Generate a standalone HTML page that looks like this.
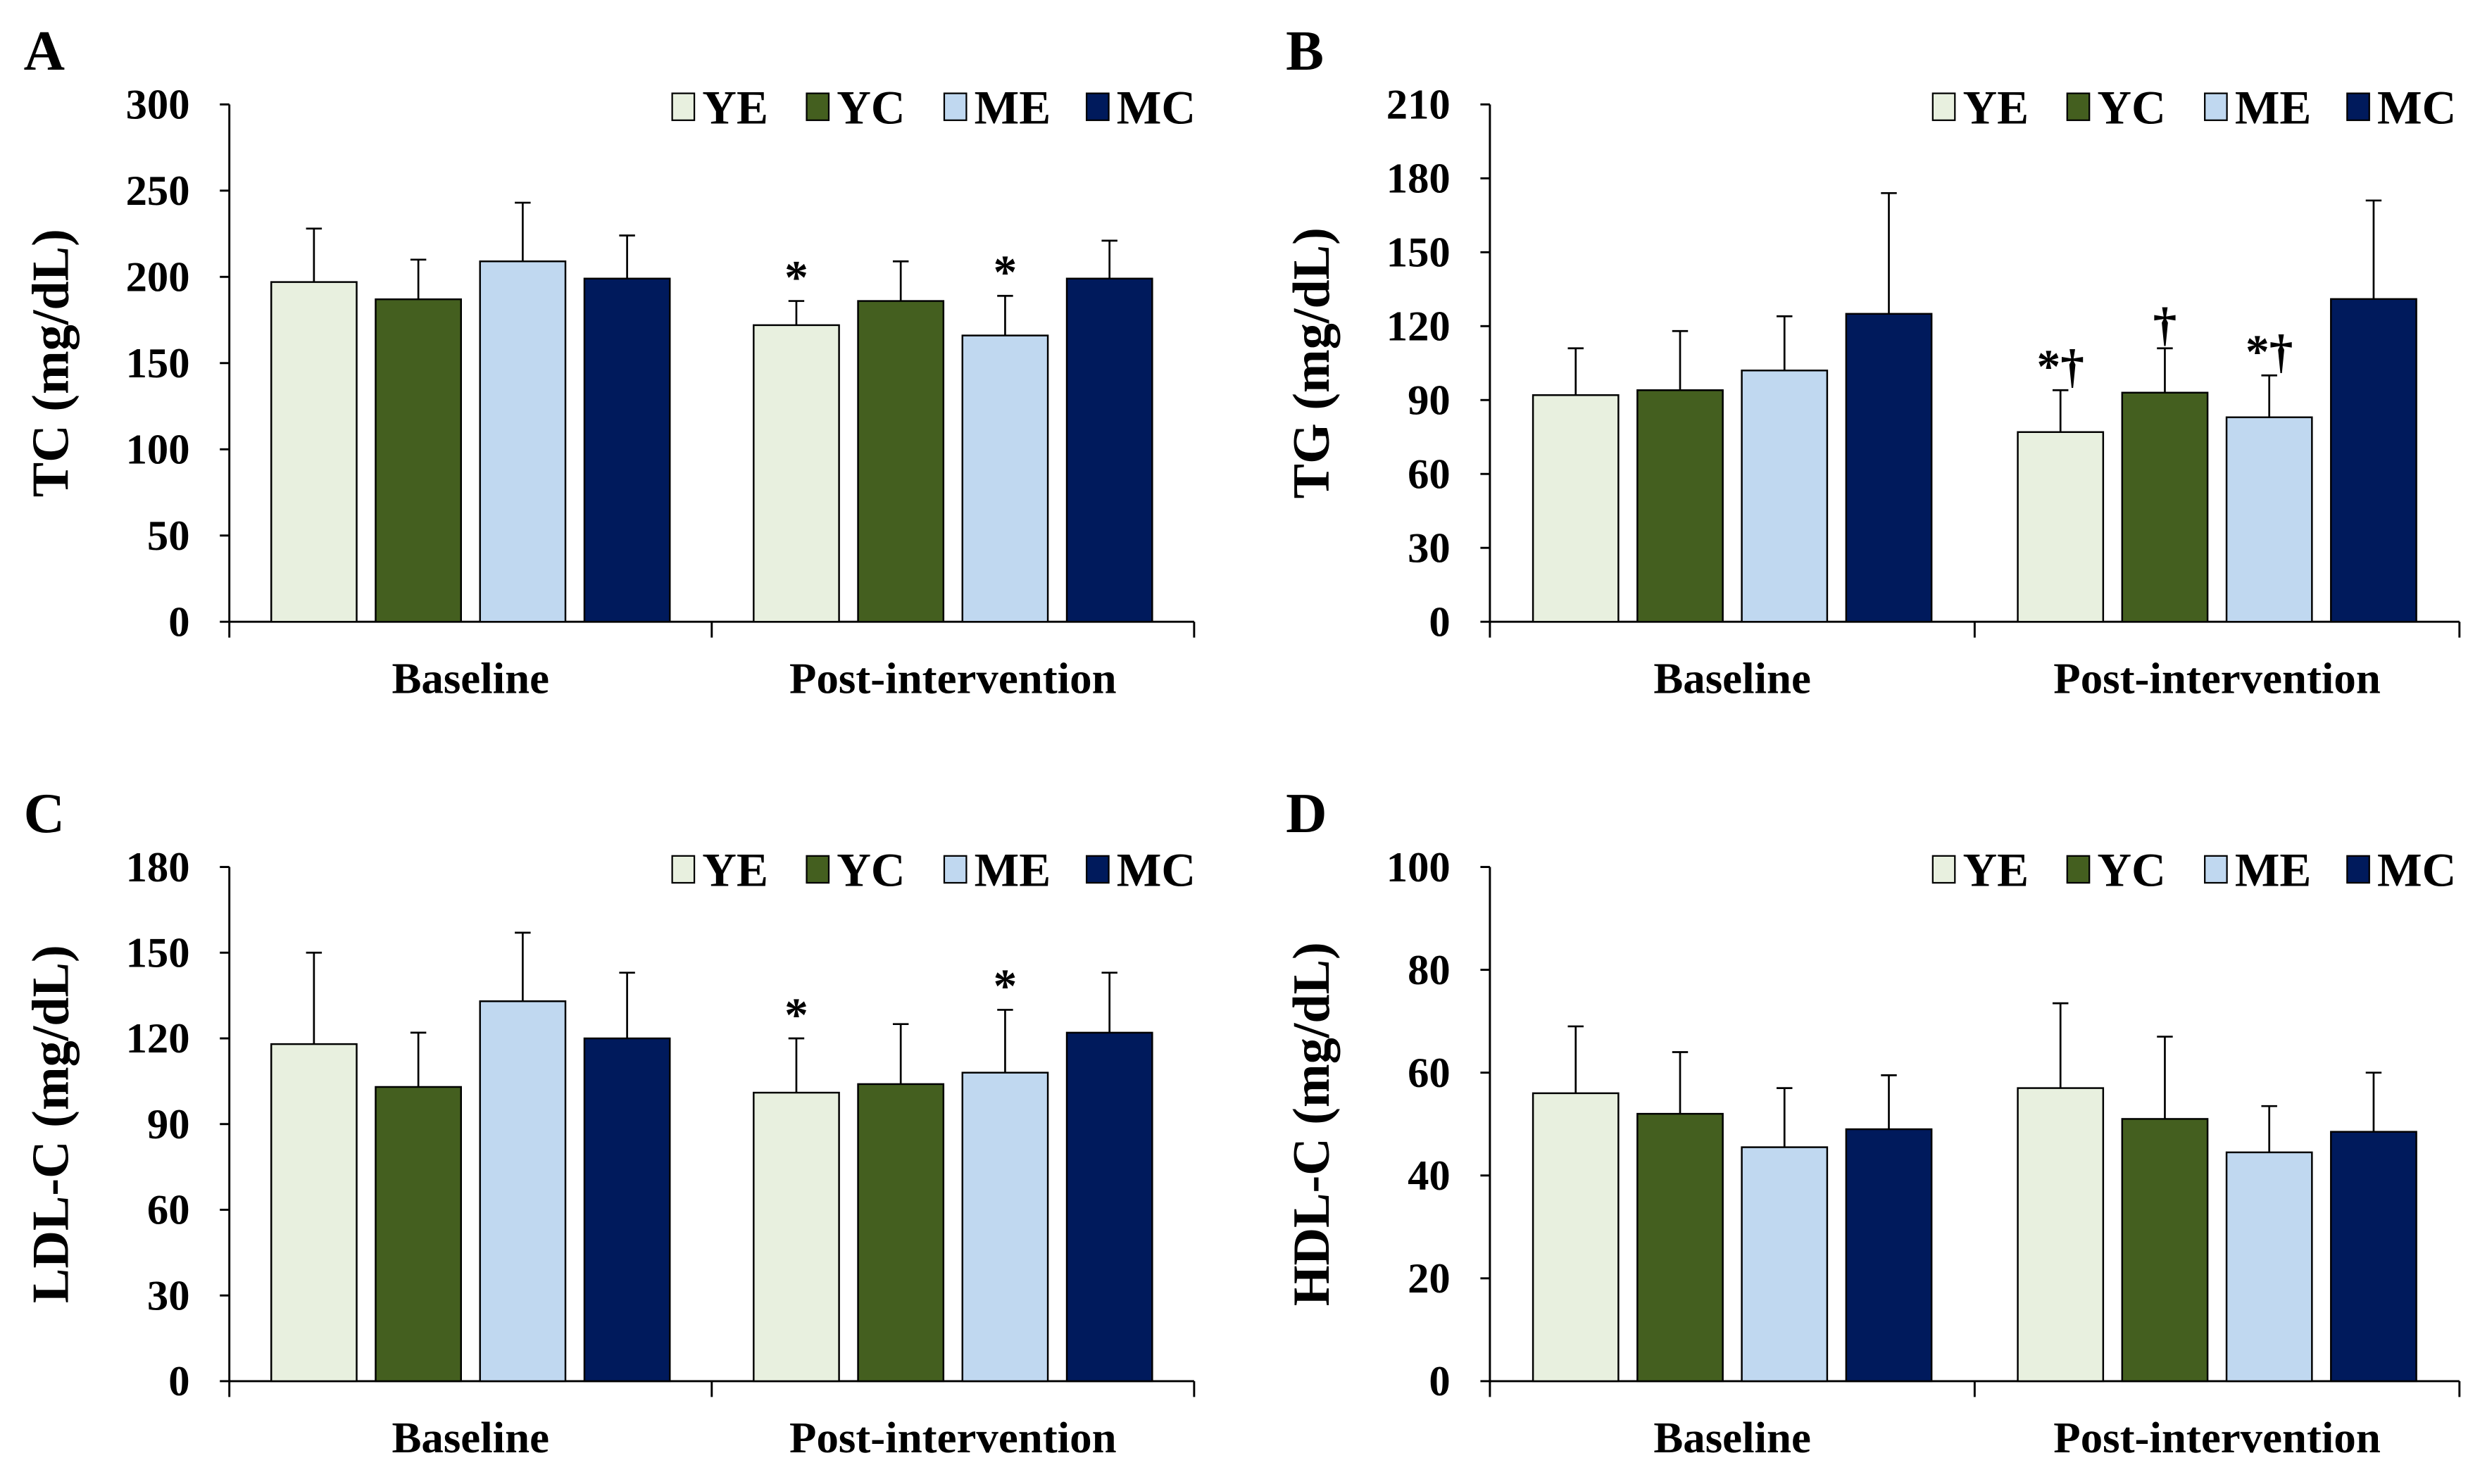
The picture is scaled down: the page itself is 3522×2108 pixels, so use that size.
<!DOCTYPE html>
<html><head><meta charset="utf-8"><style>
html,body{margin:0;padding:0;background:#fff}
svg{display:block}
svg text{font-family:"Liberation Serif","Times New Roman","DejaVu Serif",serif;font-weight:bold;fill:#000}
</style></head><body>
<svg id="fig" width="3522" height="2108" viewBox="0 0 1568 938" preserveAspectRatio="none" xmlns="http://www.w3.org/2000/svg" font-family="Liberation Serif, serif"></svg>
<script>
const groups = ["Baseline", "Post-intervention"];
const series = ["YE", "YC", "ME", "MC"];
const colors = ["#e8f0df", "#445f1f", "#c0d8f0", "#001a5c"];
const tcMean = [[197,187,209,199],[172,186,166,199]];
const tcErr = [[228,210,243,224],[186,209,189,221]];
const tgMean = [[92,94,102,125],[77,93,83,131]];
const tgErr = [[111,118,124,174],[94,111,100,171]];
const ldlMean = [[118,103,133,120],[101,104,108,122]];
const ldlErr = [[150,122,157,143],[120,125,130,143]];
const hdlMean = [[56,52,45.5,49],[57,51,44.5,48.5]];
const hdlErr = [[69,64,57,59.5],[73.5,67,53.5,60]];
const tcMarks = [["","","",""],["*","","*",""]];
const tgMarks = [["","","",""],["*†","†","*†",""]];
const ldlMarks = [["","","",""],["*","","*",""]];
const hdlMarks = [["","","",""],["","","",""]];
const tcTicks = [0,50,100,150,200,250,300];
const tgTicks = [0,30,60,90,120,150,180,210];
const ldlTicks = [0,30,60,90,120,150,180];
const hdlTicks = [0,20,40,60,80,100];

const svg = document.getElementById('fig');
const NS = "http://www.w3.org/2000/svg";
function mk(tag, attrs, parent){const e=document.createElementNS(NS,tag);for(const k in attrs)e.setAttribute(k,attrs[k]);if(tag==='text'){e.setAttribute('font-family','Liberation Serif, serif');}(parent||svg).appendChild(e);return e;}

const panels = [
 {letter:"A", title:"TC (mg/dL)", mean:tcMean, err:tcErr, marks:tcMarks, ticks:tcTicks, ox:145, top:66, zero:393, right:755, name:"tc", lx:15},
 {letter:"B", title:"TG (mg/dL)", mean:tgMean, err:tgErr, marks:tgMarks, ticks:tgTicks, ox:942, top:66, zero:393, right:1555, name:"tg", lx:813},
 {letter:"C", title:"LDL-C (mg/dL)", mean:ldlMean, err:ldlErr, marks:ldlMarks, ticks:ldlTicks, ox:145, top:548, zero:873, right:755, name:"ldl", lx:15},
 {letter:"D", title:"HDL-C (mg/dL)", mean:hdlMean, err:hdlErr, marks:hdlMarks, ticks:hdlTicks, ox:942, top:548, zero:873, right:1555, name:"hdl", lx:813}
];

panels.forEach(p=>{
  const g = mk('g',{});
  
  
  const maxT = p.ticks[p.ticks.length-1];
  const y = v => p.zero - (v/maxT)*(p.zero-p.top);
  const lt = mk('text',{x:p.lx,y:p.top-22,'font-size':36},g); lt.textContent=p.letter;
  
  
  const mid=(p.top+p.zero)/2;
  const yt = mk('text',{x:0,y:0,'font-size':33,'text-anchor':'middle',transform:`translate(${p.ox-102},${mid}) rotate(-90)`},g);
  yt.textContent=p.title;
  
  
  mk('line',{x1:p.ox,y1:p.top,x2:p.ox,y2:p.zero,stroke:'#000','stroke-width':1.3},g);
  p.ticks.forEach(t=>{
    mk('line',{x1:p.ox-6,y1:y(t),x2:p.ox,y2:y(t),stroke:'#000','stroke-width':1.3},g);
    const tl = mk('text',{x:p.ox-25,y:y(t)+9,'font-size':27,'text-anchor':'end'},g);
    tl.textContent=t;
    
    
  });
  mk('line',{x1:p.ox,y1:p.zero,x2:p.right,y2:p.zero,stroke:'#000','stroke-width':1.3},g);
  const gw=(p.right-p.ox)/groups.length;
  for(let i=0;i<=groups.length;i++){
    const xx=p.ox+gw*i;
    mk('line',{x1:xx,y1:p.zero,x2:xx,y2:p.zero+10,stroke:'#000','stroke-width':1.3},g);
  }
  const bw=54, gap=12;
  groups.forEach((gr,gi)=>{
    const gx=p.ox+gw*gi+gw/2;
    const cl=mk('text',{x:gx,y:p.zero+45,'font-size':28,'text-anchor':'middle'},g);
    cl.textContent=gr;
    
    
    const total=series.length*bw+(series.length-1)*gap;
    series.forEach((s,si)=>{
      const bx=gx-total/2+si*(bw+gap);
      const v=p.mean[gi][si], e=p.err[gi][si];
      const cx=bx+bw/2;
      const el=mk('line',{x1:cx,y1:y(v),x2:cx,y2:y(e),stroke:'#000','stroke-width':1.2},g);
      
      
      mk('line',{x1:cx-5,y1:y(e),x2:cx+5,y2:y(e),stroke:'#000','stroke-width':1.2},g);
      const r=mk('rect',{x:bx,y:y(v),width:bw,height:p.zero-y(v),fill:colors[si],stroke:'#000','stroke-width':1.1},g);
      
      
      const m=p.marks[gi][si];
      if(m){
        const mt=mk('text',{x:cx,y:y(e)-5,'font-size':30,'text-anchor':'middle','font-weight':'normal'},g);
        mt.textContent=m;
        
        
      }
    });
  });
  const lg=mk('g',{},g);
  
  
  const lx=p.ox+280, ly=p.top+1;
  const offs=[0,85,172,262];
  series.forEach((s,si)=>{
    const x0=lx+offs[si];
    mk('rect',{x:x0,y:ly-8,width:14,height:17,fill:colors[si],stroke:'#000','stroke-width':1},lg);
    const t=mk('text',{x:x0+19,y:ly+11,'font-size':30},lg);
    t.textContent=s;
    
    
  });
});
</script>
</body></html>
